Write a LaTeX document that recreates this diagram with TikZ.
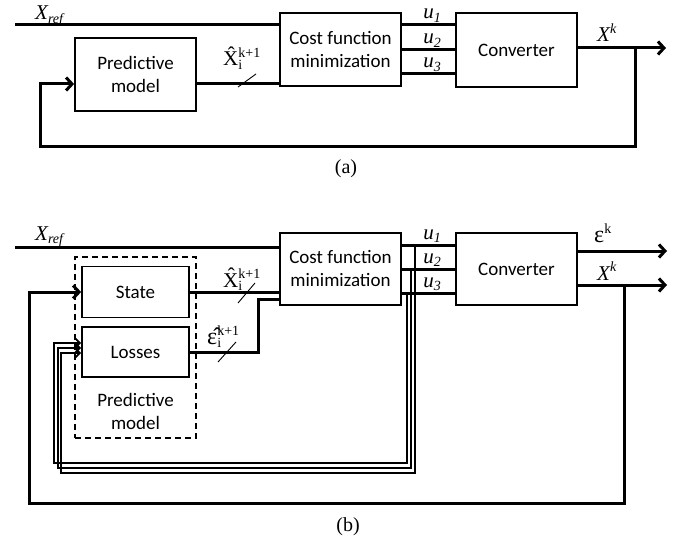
\documentclass[tikz,border=0pt]{standalone}
\usepackage{fontspec}
\setmainfont{Liberation Serif}
\newfontfamily\boxfont{Carlito}
\usetikzlibrary{arrows.meta}
\newcommand{\lsub}[1]{\raisebox{-0.18em}{\fontsize{14}{14}\selectfont #1}}
\newcommand{\lsup}[1]{\raisebox{0.42em}{\fontsize{14}{14}\selectfont #1}}
\newcommand{\bigeps}{{\fontsize{24}{24}\selectfont ε}}
\newcommand{\bigepshat}{{\fontsize{24}{24}\selectfont ε^^^^0302}}
\begin{document}
\begin{tikzpicture}[x=1pt,y=-1pt,
  blk/.style={draw, line width=1.8pt, font=\boxfont\fontsize{19}{23}\selectfont, align=center, inner sep=0pt},
  sig/.style={line width=3pt},
  bun/.style={line width=1.8pt},
  arr/.style={-{Straight Barb[length=6pt,width=13pt]}},
  arrs/.style={-{Straight Barb[length=5pt,width=10pt]}},
  lbl/.style={font=\fontsize{21}{24}\selectfont, inner sep=0pt},
  slash/.style={line width=0.9pt},
  capt/.style={font=\fontsize{20}{24}\selectfont, inner sep=0pt}
]
\useasboundingbox (0,0) rectangle (681,543);

% ---------- (a) ----------
\node[blk, minimum width=121pt, minimum height=73pt] (costA) at (340.5,49.5) {Cost function\\minimization};
\node[blk, minimum width=121pt, minimum height=74pt] (convA) at (516.5,50) {Converter};
\node[blk, minimum width=121pt, minimum height=73pt] (predA) at (135.5,74.5) {Predictive\\model};

\coordinate (xrA) at (15,25);
\draw[sig] (xrA) -- (xrA -| costA.west);
\draw[sig] (predA.east |- 0,84) -- (costA.west |- 0,84);
\foreach \yy in {25,50,74} {\draw[sig] (costA.east |- 0,\yy) -- (convA.west |- 0,\yy);}
\coordinate (outA) at (666,48);
\draw[sig,arr] (convA.east |- outA) -- (outA);
\coordinate (fbA) at (635,48);
\draw[sig,arr] (fbA) -- (635,147) -- (40,147) -- (40,84) -- (predA.west |- 0,84);

\node[lbl, anchor=base west] (lxrA) at (35,20) {\textit{X\lsub{ref}}};
\node[lbl, anchor=base west] (lxhA) at (223,66) {\^{X}\rlap{\lsub{i}}\lsup{k+1}};
\draw[slash] (238,87) -- (256,74);
\node[lbl, anchor=base] (lu1A) at (432,19) {\textit{u\lsub{1}}};
\node[lbl, anchor=base] (lu2A) at (432,44) {\textit{u\lsub{2}}};
\node[lbl, anchor=base] (lu3A) at (432,68) {\textit{u\lsub{3}}};
\node[lbl, anchor=base west] (lxkA) at (597,42) {\textit{X\lsup{k}}};
\node[capt] (capA) at (346,169) {(a)};

% ---------- (b) ----------
\node[blk, minimum width=121pt, minimum height=72pt] (costB) at (340.5,269) {Cost function\\minimization};
\node[blk, minimum width=121pt, minimum height=72pt] (convB) at (516.5,269) {Converter};
\node[draw, line width=1.4pt, dash pattern=on 6pt off 4pt, minimum width=121pt, minimum height=181pt, inner sep=0pt] (pm) at (135.5,347.5) {};
\node[blk, minimum width=107pt, minimum height=51pt] (state) at (135.5,292) {State};
\node[blk, minimum width=107pt, minimum height=50pt] (losses) at (135.5,352) {Losses};
\node[blk, draw=none] (pmtext) at (135.5,411) {Predictive\\model};

\coordinate (xrB) at (15,247);
\draw[sig] (xrB) -- (xrB -| costB.west);
\draw[sig] (state.east) -- (costB.west |- state.east);
\draw[sig] (losses.east) -- (258,352) -- (258,299) -- (costB.west |- 0,299);
\foreach \yy in {245,269,293} {\draw[sig] (costB.east |- 0,\yy) -- (convB.west |- 0,\yy);}
\coordinate (outE) at (667,251);
\coordinate (outX) at (667,285);
\draw[sig,arr] (convB.east |- outE) -- (outE);
\draw[sig,arr] (convB.east |- outX) -- (outX);
\coordinate (fbB) at (624,285);
\draw[sig,arr] (fbB) -- (624,503) -- (29,503) -- (29,292) -- (state.west);

\draw[bun,arrs] (407,293) -- (407,463) -- (54,463) -- (54,343) -- (losses.west |- 0,343);
\draw[bun,arrs] (411,269) -- (411,468) -- (58,468) -- (58,348) -- (losses.west |- 0,348);
\draw[bun,arrs] (415,245) -- (415,473) -- (61,473) -- (61,353) -- (losses.west |- 0,353);

\node[lbl, anchor=base west] (lxrB) at (35,240) {\textit{X\lsub{ref}}};
\node[lbl, anchor=base west] (lxhB) at (223,287) {\^{X}\rlap{\lsub{i}}\lsup{k+1}};
\draw[slash] (238,303) -- (255,283);
\node[lbl, anchor=base west] (lehB) at (207,344) {\bigepshat\rlap{\lsub{i}}\lsup{k+1}};
\draw[slash] (218,362) -- (236,342);
\node[lbl, anchor=base] (lu1B) at (432,239) {\textit{u\lsub{1}}};
\node[lbl, anchor=base] (lu2B) at (432,263) {\textit{u\lsub{2}}};
\node[lbl, anchor=base] (lu3B) at (432,287) {\textit{u\lsub{3}}};
\node[lbl, anchor=base west] (lekB) at (594,242) {\bigeps\lsup{k}};
\node[lbl, anchor=base west] (lxkB) at (597,280) {\textit{X\lsup{k}}};
\node[capt] (capB) at (348,527) {(b)};
\end{tikzpicture}
\end{document}
